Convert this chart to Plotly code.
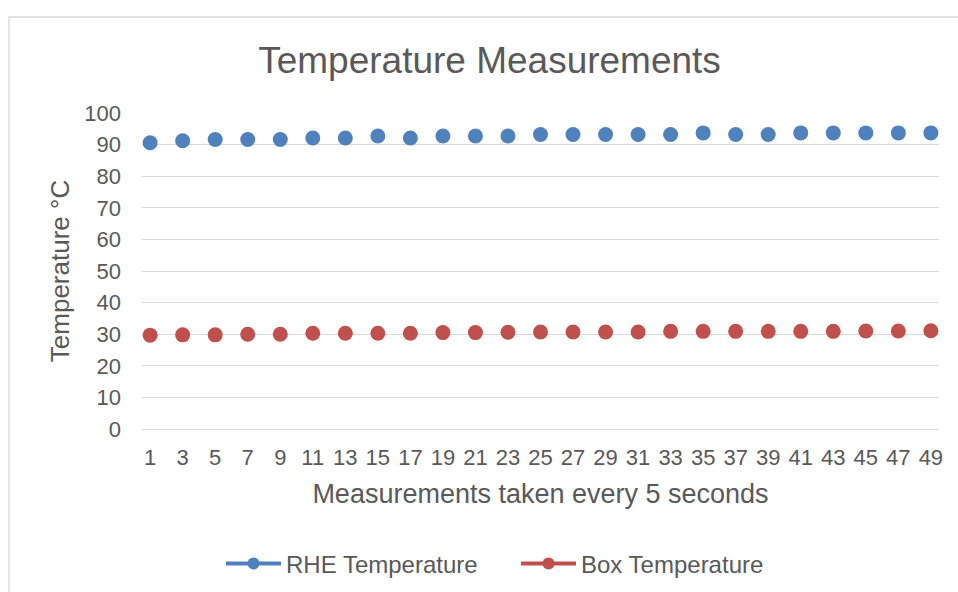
import plotly.graph_objects as go

measurement = [1, 3, 5, 7, 9, 11, 13, 15, 17, 19, 21, 23, 25,
               27, 29, 31, 33, 35, 37, 39, 41, 43, 45, 47, 49]
rhe_temp = [90.6, 91.2, 91.6, 91.6, 91.6, 92.1, 92.1, 92.7, 92.1, 92.7, 92.7, 92.7, 93.2,
            93.2, 93.2, 93.2, 93.2, 93.7, 93.2, 93.2, 93.7, 93.7, 93.7, 93.7, 93.7]
box_temp = [29.7, 29.8, 29.8, 30.0, 30.0, 30.3, 30.3, 30.3, 30.3, 30.5, 30.5, 30.6, 30.7,
            30.7, 30.7, 30.7, 30.9, 30.9, 30.9, 30.9, 30.9, 30.9, 31.0, 31.0, 31.1]
y_ticks = [0, 10, 20, 30, 40, 50, 60, 70, 80, 90, 100]

BLUE = "#4f81bd"
RED = "#c0504d"
TXT = "#595959"
GRID = "#d9d9d9"
FONT = "Liberation Sans, Arial, sans-serif"

fig = go.Figure()
fig.add_trace(go.Scatter(x=measurement, y=rhe_temp, mode="markers", name="RHE Temperature",
                         marker=dict(color=BLUE, size=15), showlegend=False))
fig.add_trace(go.Scatter(x=measurement, y=box_temp, mode="markers", name="Box Temperature",
                         marker=dict(color=RED, size=15), showlegend=False))
# legend entries (Excel-style line + marker symbol)
fig.add_trace(go.Scatter(x=[None], y=[None], mode="lines+markers", name="RHE Temperature",
                         line=dict(color=BLUE, width=4), marker=dict(color=BLUE, size=12)))
fig.add_trace(go.Scatter(x=[None], y=[None], mode="lines+markers", name="Box Temperature",
                         line=dict(color=RED, width=4), marker=dict(color=RED, size=12)))

fig.update_layout(
    width=958, height=592,
    margin=dict(l=142, r=19, t=113, b=163, autoexpand=False),
    paper_bgcolor="white", plot_bgcolor="white",
    font=dict(family=FONT, color=TXT),
    title=dict(text="Temperature Measurements", x=0.511, xanchor="center",
               y=1 - 60 / 592, yanchor="middle", yref="container",
               font=dict(size=37, color=TXT, family=FONT)),
    xaxis=dict(range=[0.5, 49.5], tickmode="array", tickvals=measurement,
               ticktext=[str(v) for v in measurement],
               showgrid=False, zeroline=False, showline=False, automargin=False,
               ticks="", ticklabelstandoff=13,
               tickfont=dict(size=22, color=TXT),
               title=dict(text="Measurements taken every 5 seconds", standoff=15,
                          font=dict(size=27, color=TXT))),
    yaxis=dict(range=[0, 100], tickmode="array", tickvals=y_ticks,
               showgrid=True, gridcolor=GRID, gridwidth=1.3,
               zeroline=True, zerolinecolor=GRID, zerolinewidth=1.3,
               showline=False, automargin=False, ticks="", ticklabelstandoff=20,
               tickfont=dict(size=22, color=TXT),
               title=dict(text="Temperature °C", standoff=7,
                          font=dict(size=26, color=TXT))),
    legend=dict(orientation="h", x=(221 - 142) / 797, xanchor="left",
                y=-0.427, yanchor="middle",
                font=dict(size=24, color=TXT), itemwidth=55, entrywidth=225,
                bgcolor="rgba(0,0,0,0)"),
    shapes=[dict(type="rect", xref="paper", yref="paper",
                 x0=-0.1669, x1=1.04, y0=-0.56, y1=1.3038,
                 line=dict(color=GRID, width=1.3), fillcolor="rgba(0,0,0,0)", layer="below")],
    showlegend=True,
)

fig.write_html("out.html")
